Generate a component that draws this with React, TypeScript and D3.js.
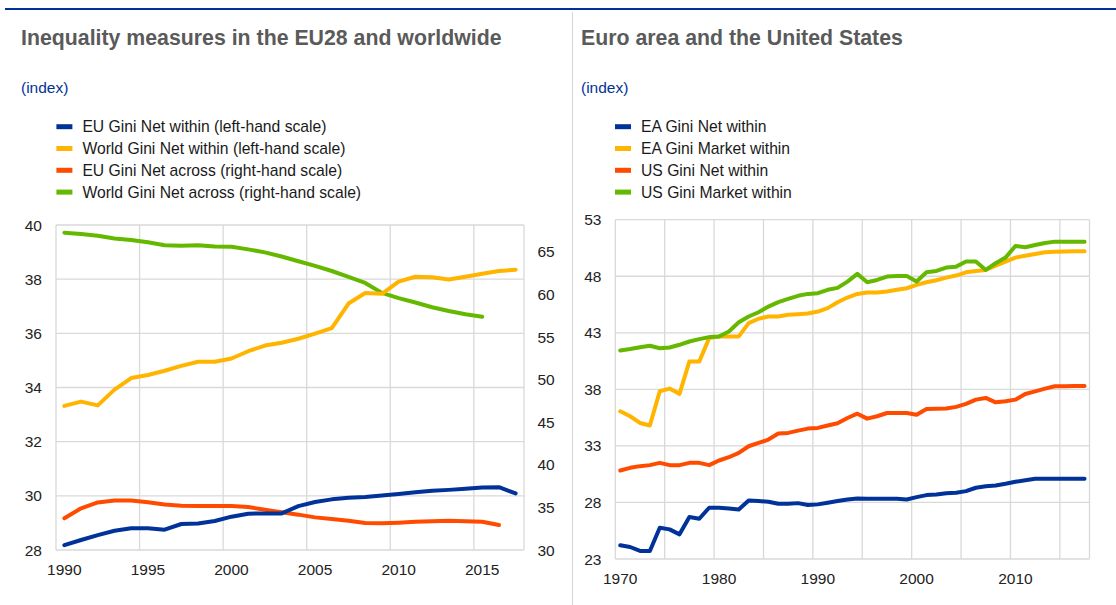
import React from "react";
import * as d3 from "d3";

// ---------- Left panel data ----------
const yearsLeft = [1990, 1991, 1992, 1993, 1994, 1995, 1996, 1997, 1998, 1999, 2000, 2001, 2002, 2003, 2004, 2005, 2006, 2007, 2008, 2009, 2010, 2011, 2012, 2013, 2014, 2015, 2016, 2017];
const euNetWithin = [28.18, 28.37, 28.55, 28.71, 28.8, 28.8, 28.75, 28.96, 28.98, 29.07, 29.23, 29.34, 29.35, 29.35, 29.62, 29.77, 29.87, 29.93, 29.96, 30.01, 30.07, 30.13, 30.19, 30.22, 30.26, 30.31, 30.32, 30.09];
const worldNetWithin = [33.32, 33.48, 33.34, 33.92, 34.35, 34.46, 34.62, 34.8, 34.95, 34.95, 35.07, 35.34, 35.55, 35.65, 35.8, 35.99, 36.19, 37.1, 37.49, 37.46, 37.91, 38.09, 38.07, 37.99, 38.09, 38.2, 38.3, 38.35];
const euNetAcross = [33.72, 34.89, 35.58, 35.82, 35.82, 35.6, 35.33, 35.2, 35.17, 35.17, 35.16, 35.04, 34.72, 34.42, 34.15, 33.83, 33.64, 33.44, 33.16, 33.13, 33.21, 33.31, 33.38, 33.42, 33.37, 33.31, 32.93, null];
const worldNetAcross = [67.25, 67.09, 66.88, 66.57, 66.39, 66.12, 65.78, 65.7, 65.76, 65.62, 65.6, 65.29, 64.94, 64.45, 63.9, 63.35, 62.75, 62.05, 61.35, 60.18, 59.57, 59.05, 58.5, 58.05, 57.68, 57.39, null, null];
const leftTicksL = [28, 30, 32, 34, 36, 38, 40];
const rightTicksL = [30, 35, 40, 45, 50, 55, 60, 65];
const xLabelsLeft = [1990, 1995, 2000, 2005, 2010, 2015];
const legendLeft = [
  "EU Gini Net within (left-hand scale)",
  "World Gini Net within (left-hand scale)",
  "EU Gini Net across (right-hand scale)",
  "World Gini Net across (right-hand scale)",
];

// ---------- Right panel data ----------
const yearsRight = [1970, 1971, 1972, 1973, 1974, 1975, 1976, 1977, 1978, 1979, 1980, 1981, 1982, 1983, 1984, 1985, 1986, 1987, 1988, 1989, 1990, 1991, 1992, 1993, 1994, 1995, 1996, 1997, 1998, 1999, 2000, 2001, 2002, 2003, 2004, 2005, 2006, 2007, 2008, 2009, 2010, 2011, 2012, 2013, 2014, 2015, 2016, 2017];
const eaNetWithin = [24.21, 24.06, 23.71, 23.71, 25.77, 25.62, 25.18, 26.71, 26.56, 27.53, 27.53, 27.47, 27.38, 28.18, 28.12, 28.06, 27.88, 27.88, 27.94, 27.77, 27.83, 27.97, 28.12, 28.26, 28.35, 28.32, 28.32, 28.32, 28.32, 28.26, 28.47, 28.65, 28.7, 28.82, 28.85, 29.0, 29.3, 29.44, 29.5, 29.65, 29.83, 29.97, 30.09, 30.09, 30.09, 30.1, 30.1, 30.1];
const eaMarketWithin = [36.06, 35.62, 35.03, 34.8, 37.83, 38.07, 37.6, 40.47, 40.47, 42.53, 42.68, 42.68, 42.68, 43.86, 44.24, 44.44, 44.44, 44.59, 44.65, 44.71, 44.88, 45.18, 45.7, 46.12, 46.44, 46.56, 46.56, 46.65, 46.8, 46.94, 47.24, 47.47, 47.65, 47.88, 48.06, 48.35, 48.47, 48.56, 48.94, 49.3, 49.65, 49.82, 49.97, 50.12, 50.17, 50.18, 50.2, 50.2];
const usNetWithin = [30.83, 31.06, 31.21, 31.3, 31.5, 31.3, 31.3, 31.5, 31.5, 31.3, 31.71, 32.0, 32.38, 32.97, 33.26, 33.56, 34.09, 34.15, 34.35, 34.53, 34.59, 34.8, 35.0, 35.47, 35.85, 35.41, 35.62, 35.91, 35.91, 35.91, 35.76, 36.26, 36.29, 36.3, 36.45, 36.71, 37.09, 37.24, 36.85, 36.94, 37.09, 37.59, 37.82, 38.06, 38.27, 38.27, 38.3, 38.3];
const usMarketWithin = [41.44, 41.56, 41.73, 41.85, 41.64, 41.7, 41.94, 42.23, 42.44, 42.62, 42.68, 43.12, 43.94, 44.44, 44.82, 45.32, 45.71, 46.0, 46.27, 46.44, 46.5, 46.8, 46.97, 47.53, 48.21, 47.47, 47.67, 47.97, 48.03, 48.03, 47.53, 48.36, 48.47, 48.77, 48.85, 49.3, 49.3, 48.56, 49.15, 49.65, 50.68, 50.56, 50.76, 50.94, 51.06, 51.06, 51.06, 51.06];
const ticksR = [23, 28, 33, 38, 43, 48, 53];
const xLabelsRight = [1970, 1980, 1990, 2000, 2010];
const legendRight = ["EA Gini Net within", "EA Gini Market within", "US Gini Net within", "US Gini Market within"];

const colors = ["#003299", "#FFB400", "#FF4B00", "#65B800"];
const FONT = "'Liberation Sans', Arial, Helvetica, sans-serif";
const GRID = "#d9d9d9";
const TICK_FS = 15.5;

type Series = (number | null)[];

function Legend({ x, y, labels }: { x: number; y: number; labels: string[] }) {
  return (
    <g>
      {labels.map((l, i) => (
        <g key={l} transform={`translate(${x},${y + i * 21.8})`}>
          <rect x={0} y={-2.5} width={16} height={5} fill={colors[i]} />
          <text x={26} y={0} dominantBaseline="central" fontSize={15.7} fill="#1a1a1a">
            {l}
          </text>
        </g>
      ))}
    </g>
  );
}

export default function App() {
  // Left panel scales
  const xL = d3.scaleBand<number>().domain(yearsLeft).range([56, 524]).padding(0);
  const bwL = xL.bandwidth();
  const yLl = d3.scaleLinear().domain([28, 40]).range([550, 225]);
  const yLr = d3.scaleLinear().domain([30, 68.15]).range([550, 225]);

  // Right panel scales
  const xR = d3.scaleBand<number>().domain(yearsRight).range([615.3, 1089.5]).padding(0);
  const bwR = xR.bandwidth();
  const yR = d3.scaleLinear().domain([23, 53]).range([559, 219.7]);

  const mkLine = (xs: d3.ScaleBand<number>, years: number[], bw: number, ys: d3.ScaleLinear<number, number>) =>
    d3
      .line<number | null>()
      .defined((d) => d != null)
      .x((_, i) => (xs(years[i]) as number) + bw / 2)
      .y((d) => ys(d as number));

  const leftSeries: { data: Series; scale: d3.ScaleLinear<number, number>; color: string }[] = [
    { data: euNetAcross, scale: yLr, color: colors[2] },
    { data: worldNetAcross, scale: yLr, color: colors[3] },
    { data: worldNetWithin, scale: yLl, color: colors[1] },
    { data: euNetWithin, scale: yLl, color: colors[0] },
  ];
  const rightSeries: { data: Series; color: string }[] = [
    { data: usNetWithin, color: colors[2] },
    { data: eaMarketWithin, color: colors[1] },
    { data: usMarketWithin, color: colors[3] },
    { data: eaNetWithin, color: colors[0] },
  ];

  const vGridL = yearsLeft.filter((y, i) => i > 0 && i % 5 === 0).map((y) => xL(y) as number);
  const vGridR = yearsRight.filter((y, i) => i > 0 && i % 5 === 0).map((y) => xR(y) as number);

  return (
    <svg
      width={1116}
      height={605}
      style={{ position: "absolute", left: 0, top: 0, background: "#fff" }}
      fontFamily={FONT}
    >
      <rect x={0} y={0} width={1116} height={605} fill="#fff" />
      {/* top rule and separator */}
      <line x1={5} x2={1116} y1={9} y2={9} stroke="#003299" strokeWidth={2} />
      <line x1={572.4} x2={572.4} y1={12} y2={605} stroke="#d4d4d4" strokeWidth={1} />

      {/* Titles */}
      <text x={21} y={45} fontSize={21.3} fontWeight="bold" fill="#5a5a5a">
        Inequality measures in the EU28 and worldwide
      </text>
      <text x={581} y={45} fontSize={21.3} fontWeight="bold" fill="#5a5a5a">
        Euro area and the United States
      </text>
      <text x={21} y={87} dominantBaseline="central" fontSize={15.5} fill="#003299">
        (index)
      </text>
      <text x={581} y={87} dominantBaseline="central" fontSize={15.5} fill="#003299">
        (index)
      </text>

      <Legend x={56.4} y={126.7} labels={legendLeft} />
      <Legend x={615} y={126.7} labels={legendRight} />

      {/* Left panel */}
      <g>
        {leftTicksL.map((t) => (
          <line key={t} x1={56} x2={524} y1={yLl(t)} y2={yLl(t)} stroke={GRID} strokeWidth={1.3} />
        ))}
        {vGridL.map((x) => (
          <line key={x} x1={x} x2={x} y1={225} y2={550} stroke={GRID} strokeWidth={1.3} />
        ))}
        <line x1={56} x2={56} y1={225} y2={550} stroke={GRID} strokeWidth={1.3} />
        <line x1={524} x2={524} y1={225} y2={550} stroke={GRID} strokeWidth={1.3} />
        {leftTicksL.map((t) => (
          <text key={t} x={42} y={yLl(t)} textAnchor="end" dominantBaseline="central" fontSize={TICK_FS} fill="#222">
            {t}
          </text>
        ))}
        {rightTicksL.map((t) => (
          <text key={t} x={537.5} y={yLr(t)} textAnchor="start" dominantBaseline="central" fontSize={TICK_FS} fill="#222">
            {t}
          </text>
        ))}
        {xLabelsLeft.map((yr) => (
          <text key={yr} x={(xL(yr) as number) + bwL / 2} y={569} textAnchor="middle" dominantBaseline="central" fontSize={TICK_FS} fill="#222">
            {yr}
          </text>
        ))}
        {leftSeries.map((s, k) => (
          <path
            key={k}
            d={mkLine(xL, yearsLeft, bwL, s.scale)(s.data) || ""}
            fill="none"
            stroke={s.color}
            strokeWidth={4}
            strokeLinejoin="round"
            strokeLinecap="round"
          />
        ))}
      </g>

      {/* Right panel */}
      <g>
        {ticksR.map((t) => (
          <line key={t} x1={615.3} x2={1089.5} y1={yR(t)} y2={yR(t)} stroke={GRID} strokeWidth={1.3} />
        ))}
        {vGridR.map((x) => (
          <line key={x} x1={x} x2={x} y1={219.7} y2={559} stroke={GRID} strokeWidth={1.3} />
        ))}
        <line x1={615.3} x2={615.3} y1={219.7} y2={559} stroke={GRID} strokeWidth={1.3} />
        <line x1={1089.5} x2={1089.5} y1={219.7} y2={559} stroke={GRID} strokeWidth={1.3} />
        {ticksR.map((t) => (
          <text key={t} x={601.5} y={yR(t)} textAnchor="end" dominantBaseline="central" fontSize={TICK_FS} fill="#222">
            {t}
          </text>
        ))}
        {xLabelsRight.map((yr) => (
          <text key={yr} x={(xR(yr) as number) + bwR / 2} y={578.3} textAnchor="middle" dominantBaseline="central" fontSize={TICK_FS} fill="#222">
            {yr}
          </text>
        ))}
        {rightSeries.map((s, k) => (
          <path
            key={k}
            d={mkLine(xR, yearsRight, bwR, yR)(s.data) || ""}
            fill="none"
            stroke={s.color}
            strokeWidth={4}
            strokeLinejoin="round"
            strokeLinecap="round"
          />
        ))}
      </g>
    </svg>
  );
}
